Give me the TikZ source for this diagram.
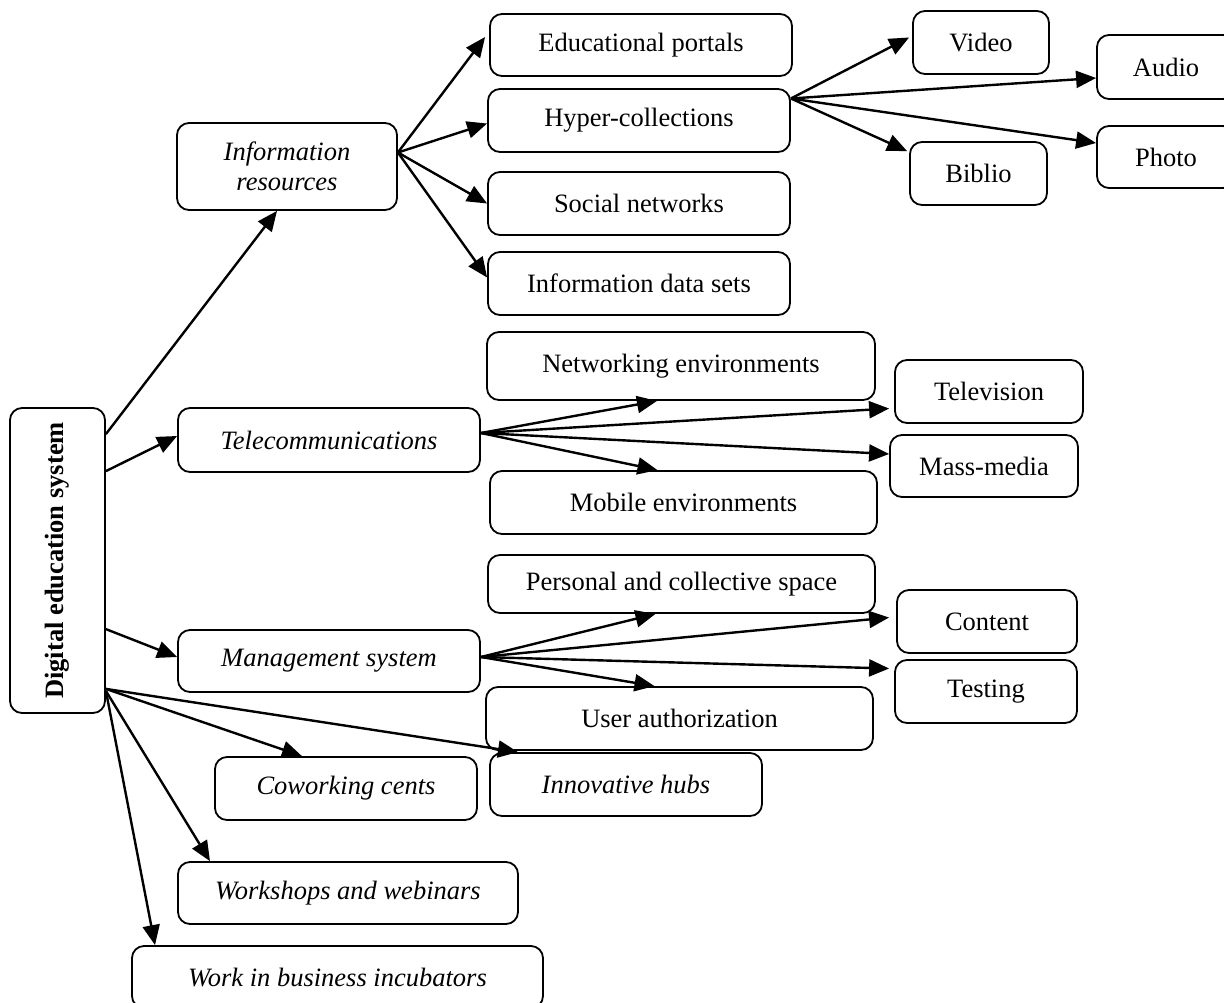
\documentclass[tikz,border=0pt]{standalone}
\usepackage{fontspec}
\setmainfont{Liberation Serif}
\usetikzlibrary{arrows.meta}
\begin{document}
\begin{tikzpicture}[x=1pt,y=-1pt,
  box/.style={draw, line width=1.8pt, rounded corners=12pt, inner sep=0pt, align=center,
    font=\fontsize{26.5}{30}\selectfont},
  ibox/.style={box, font=\fontsize{26.5}{30}\selectfont\itshape},
  arr/.style={line width=2.4pt, -{Triangle[length=20pt,width=17pt]}}]
\useasboundingbox (0,0) rectangle (1224,1002);
\clip (0,0) rectangle (1224,1002);

% root
\node[box, minimum width=95pt, minimum height=305pt] (root) at (57.5,560.5)
  {\rotatebox{90}{\bfseries Digital education system}};

% level 1
\node[ibox, minimum width=220pt, minimum height=87pt] (info) at (287,166.5) {Information\\resources};
\node[ibox, minimum width=302pt, minimum height=64pt] (tele) at (329,440) {Telecommunications};
\node[ibox, minimum width=302pt, minimum height=62pt] (mgmt) at (329,661) {Management system};
\node[ibox, minimum width=262pt, minimum height=63pt] (coworking) at (346,788.5) {Coworking cents};
\node[ibox, minimum width=272pt, minimum height=63pt] (innovative) at (626,784.5) {Innovative hubs};
\node[ibox, minimum width=340pt, minimum height=62pt] (workshops) at (348,893) {Workshops and webinars};
\node[ibox, minimum width=411pt, minimum height=62pt] (incubators) at (337.5,977) {Work in business incubators};

% information resources children
\node[box, minimum width=302pt, minimum height=62pt] (edu) at (641,45) {Educational portals};
\node[box, minimum width=302pt, minimum height=63pt] (hyper) at (639,120.5) {Hyper-collections};
\node[box, minimum width=302pt, minimum height=63pt] (social) at (639,203.5) {Social networks};
\node[box, minimum width=302pt, minimum height=63pt] (datasets) at (639,283.5) {Information data sets};

% hyper-collections children
\node[box, minimum width=136pt, minimum height=63pt] (video) at (981,42.5) {Video};
\node[box, minimum width=138pt, minimum height=64pt] (audio) at (1166,67) {Audio};
\node[box, minimum width=138pt, minimum height=62pt] (photo) at (1166,157) {Photo};
\node[box, minimum width=137pt, minimum height=63pt] (biblio) at (978.5,173.5) {Biblio};

% telecommunications children
\node[box, minimum width=388pt, minimum height=68pt] (networking) at (681,366) {Networking environments};
\node[box, minimum width=387pt, minimum height=63pt] (mobile) at (683.5,502.5) {Mobile environments};
\node[box, minimum width=188pt, minimum height=63pt] (television) at (989,391.5) {Television};
\node[box, minimum width=188pt, minimum height=62pt] (massmedia) at (984,466) {Mass-media};

% management children
\node[box, minimum width=387pt, minimum height=58pt] (personal) at (681.5,584) {Personal and collective space};
\node[box, minimum width=180pt, minimum height=63pt] (content) at (987,621.5) {Content};
\node[box, minimum width=182pt, minimum height=63pt] (testing) at (986,691.5) {Testing};
\node[box, minimum width=387pt, minimum height=63pt] (userauth) at (679.5,718.5) {User authorization};

% root connectors
\draw[arr] ([yshift=-27pt]root.north east) -- ([xshift=-10pt]info.south);
\draw[arr] ([yshift=-64pt]root.north east) -- ([yshift=4pt]tele.west);
\draw[arr] ([yshift=-222pt]root.north east) -- ([yshift=4pt]mgmt.west);
\draw[arr] ([yshift=25pt]root.south east) -- ([xshift=-44pt]coworking.north);
\draw[arr] ([yshift=25pt]root.south east) -- ([xshift=-108pt]innovative.north);
\draw[arr] ([yshift=23pt]root.south east) -- ([xshift=-138pt]workshops.north);
\draw[arr] ([yshift=23pt]root.south east) -- ([xshift=-182.5pt]incubators.north);

% information resources connectors
\draw[arr] ([yshift=14pt]info.east) -- ([xshift=-4pt,yshift=8pt]edu.west);
\draw[arr] ([yshift=14pt]info.east) -- ([yshift=-3pt]hyper.west);
\draw[arr] ([yshift=14pt]info.east) -- (social.west);
\draw[arr] ([yshift=14pt]info.east) -- ([yshift=6pt]datasets.west);

% hyper-collections connectors
\draw[arr] ([yshift=22pt]hyper.east) -- ([xshift=-3pt,yshift=5pt]video.west);
\draw[arr] ([yshift=22pt]hyper.east) -- ([yshift=-11pt]audio.west);
\draw[arr] ([yshift=22pt]hyper.east) -- ([yshift=14pt]photo.west);
\draw[arr] ([yshift=22pt]hyper.east) -- ([xshift=-2pt,yshift=-10pt]biblio.north west);

% telecommunications connectors
\draw[arr] ([yshift=7pt]tele.east) -- ([xshift=-24pt]networking.south);
\draw[arr] ([yshift=7pt]tele.east) -- ([xshift=-5pt,yshift=-17pt]television.west);
\draw[arr] ([yshift=7pt]tele.east) -- ([yshift=12pt]massmedia.west);
\draw[arr] ([yshift=7pt]tele.east) -- ([xshift=-26pt]mobile.north);

% management connectors
\draw[arr] ([yshift=4pt]mgmt.east) -- ([xshift=-26pt]personal.south);
\draw[arr] ([yshift=4pt]mgmt.east) -- ([xshift=-7pt,yshift=4pt]content.west);
\draw[arr] ([yshift=4pt]mgmt.east) -- ([xshift=-5pt,yshift=23pt]testing.west);
\draw[arr] ([yshift=4pt]mgmt.east) -- ([xshift=-25pt]userauth.north);
\end{tikzpicture}
\end{document}
